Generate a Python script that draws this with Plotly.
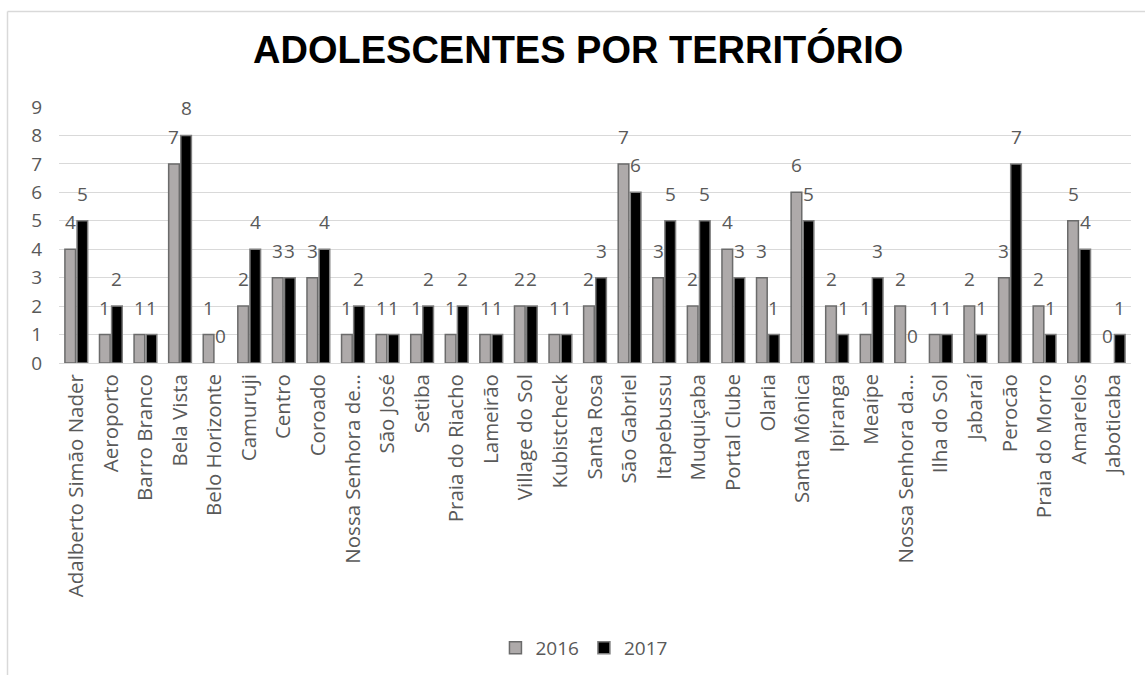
import plotly.graph_objects as go

categories = [
    "Adalberto Simão Nader", "Aeroporto", "Barro Branco", "Bela Vista", "Belo Horizonte",
    "Camuruji", "Centro", "Coroado", "Nossa Senhora de...", "São José", "Setiba",
    "Praia do Riacho", "Lameirão", "Village do Sol", "Kubistcheck", "Santa Rosa",
    "São Gabriel", "Itapebussu", "Muquiçaba", "Portal Clube", "Olaria", "Santa Mônica",
    "Ipiranga", "Meaípe", "Nossa Senhora da...", "Ilha do Sol", "Jabaraí", "Perocão",
    "Praia do Morro", "Amarelos", "Jaboticaba",
]
values_2016 = [4, 1, 1, 7, 1, 2, 3, 3, 1, 1, 1, 1, 1, 2, 1, 2, 7, 3, 2, 4, 3, 6, 2, 1, 2, 1, 2, 3, 2, 5, 0]
values_2017 = [5, 2, 1, 8, 0, 4, 3, 4, 2, 1, 2, 2, 1, 2, 1, 3, 6, 5, 5, 3, 1, 5, 1, 3, 0, 1, 1, 7, 1, 4, 1]
y_ticks = [0, 1, 2, 3, 4, 5, 6, 7, 8, 9]

TXT = "#595959"
FONT = "Open Sans"
W, H = 1145, 675
L, R, T, B = 59, 14, 107, 312
bargap, bargroupgap = 0.3, 0.12

fig = go.Figure()
fig.add_trace(go.Bar(
    name="2016", x=categories, y=values_2016,
    marker=dict(color="#AEAAAA",
                line=dict(color="#6b6b6b", width=[1.5 if v else 0 for v in values_2016])),
    hoverinfo="skip",
))
fig.add_trace(go.Bar(
    name="2017", x=categories, y=values_2017,
    marker=dict(color="#000000",
                line=dict(color="#7f7f7f", width=[1.5 if v else 0 for v in values_2017])),
    hoverinfo="skip",
))

# data labels above each bar (outside end)
plot_w = W - L - R
pitch = plot_w / len(categories)
slot = pitch * (1 - bargap) / 2
annotations = []
for series, shift in ((values_2016, -slot / 2), (values_2017, slot / 2)):
    for c, v in zip(categories, series):
        annotations.append(dict(
            x=c, y=v, xref="x", yref="y", text=str(v), showarrow=False,
            xshift=shift, yshift=12, yanchor="bottom", xanchor="center",
            font=dict(family=FONT, size=19, color=TXT),
        ))

shapes = [
    dict(type="line", xref="paper", yref="paper",
         x0=(7.5 - L) / plot_w, x1=(W + 5 - L) / plot_w,
         y0=(H - B - 11.5) / (H - T - B), y1=(H - B - 11.5) / (H - T - B),
         line=dict(color="#d9d9d9", width=1.5)),
    dict(type="line", xref="paper", yref="paper",
         x0=(7.5 - L) / plot_w, x1=(7.5 - L) / plot_w,
         y0=(H - B - 11.5) / (H - T - B), y1=(H - B - H - 5) / (H - T - B),
         line=dict(color="#d9d9d9", width=1.5)),
]

fig.update_layout(
    width=W, height=H,
    margin=dict(l=L, r=R, t=T, b=B, autoexpand=False),
    paper_bgcolor="white", plot_bgcolor="white",
    barmode="group", bargap=bargap, bargroupgap=bargroupgap,
    title=dict(text="<b>ADOLESCENTES POR TERRITÓRIO</b>", x=0.505, xanchor="center",
               y=1 - 50 / H, yanchor="middle", yref="container",
               font=dict(family="Liberation Sans", size=38, color="#000000")),
    font=dict(family=FONT, color=TXT),
    showlegend=True,
    legend=dict(orientation="h", x=0.51, xref="container", xanchor="center",
                y=1 - 648 / H, yref="container", yanchor="middle",
                font=dict(family=FONT, size=19, color=TXT), itemwidth=30),
    xaxis=dict(tickangle=-90, tickfont=dict(family=FONT, size=20.5, color=TXT),
               showgrid=False, showline=False, ticks="", automargin=False,
               ticklabelstandoff=6),
    yaxis=dict(range=[0, 9], tickvals=y_ticks, showgrid=True, gridcolor="#d9d9d9",
               gridwidth=1.3, zeroline=True, zerolinecolor="#d9d9d9", zerolinewidth=1.3,
               tickfont=dict(family=FONT, size=19, color=TXT), ticks="",
               automargin=False, ticklabelstandoff=16),
    annotations=annotations,
    shapes=shapes,
)

fig.write_html("out.html", config={"displayModeBar": False},
               post_script="document.body.style.margin='0px';")
